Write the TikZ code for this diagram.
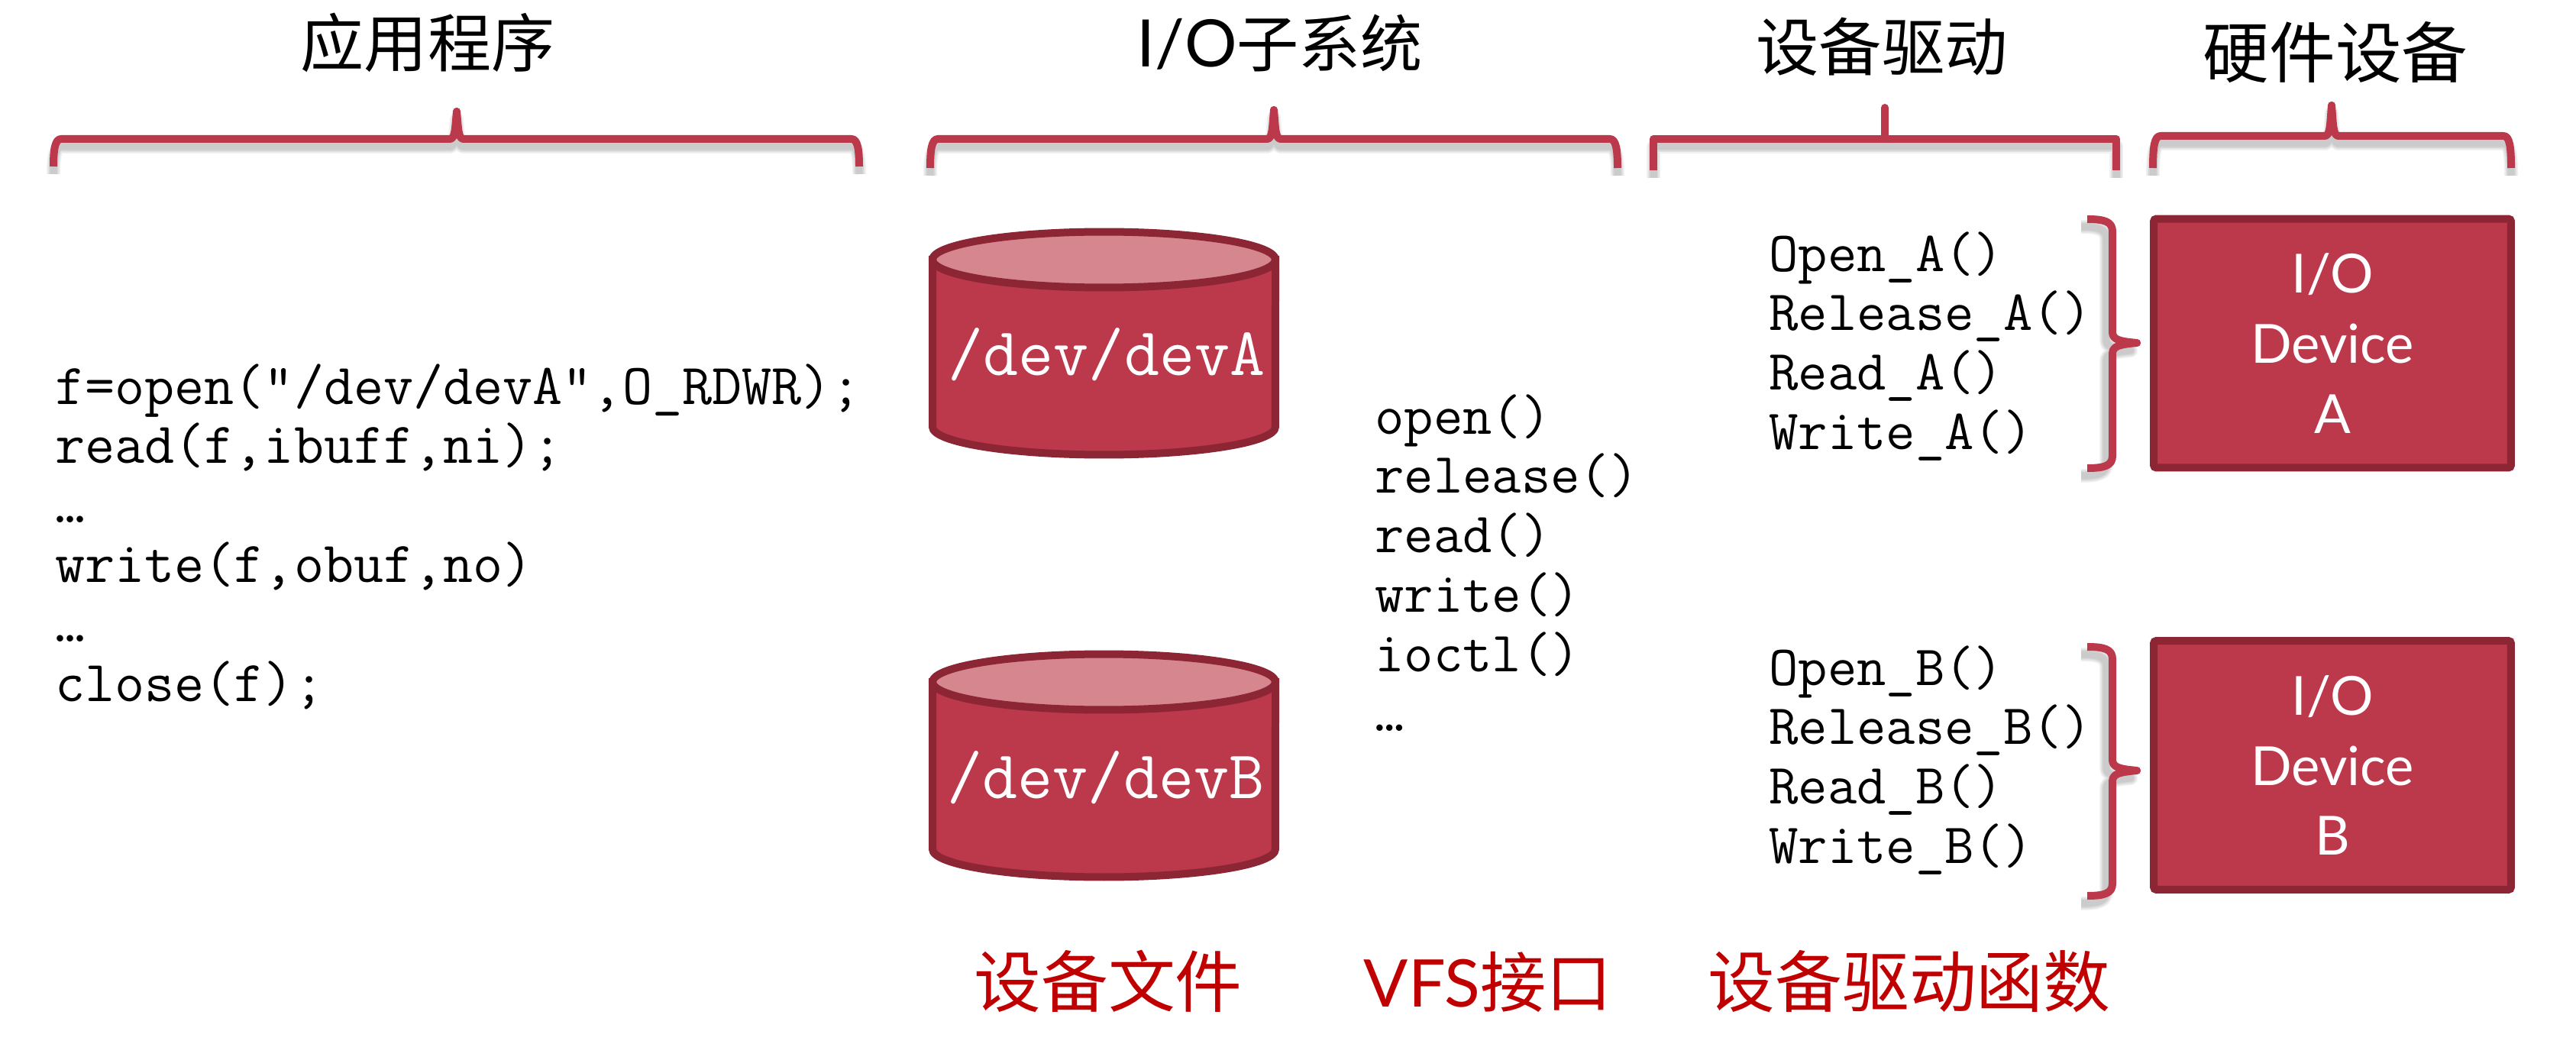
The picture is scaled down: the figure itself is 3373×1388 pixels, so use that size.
\documentclass[tikz,border=0pt]{standalone}
\usepackage{fontspec}
\newfontfamily\cjk{Noto Sans CJK SC}
\newfontfamily\gill{Lato}
\definecolor{brickred}{HTML}{BC384B}
\definecolor{darkbrick}{HTML}{8C2534}
\definecolor{lightbrick}{HTML}{D6868F}
\definecolor{notered}{HTML}{C00000}
\tikzset{
  bracket/.style = {draw = brickred, line width = 0.2cm, line join = round},
  bracketshade/.style = {draw = black, opacity = 0.055, line join = round},
  title/.style = {anchor = base, font = \cjk\fontsize{46.2}{50}\selectfont},
  note/.style = {anchor = base, text = notered, font = \cjk\fontsize{50}{52}\selectfont},
  code/.style = {anchor = north west, align = left, inner sep = 0, font = \ttfamily\fontsize{42.4}{44.3}\selectfont},
  devname/.style = {anchor = base, text = white, font = \ttfamily\fontsize{50.9}{52}\selectfont},
  cylside/.style = {draw = darkbrick, fill = brickred, line width = 0.2cm},
  cyltop/.style = {draw = darkbrick, fill = lightbrick, line width = 0.2cm},
  devicebox/.style = {draw = darkbrick, fill = brickred, line width = 0.2cm, rounded corners = 2pt,
    minimum width = 9.36cm, minimum height = 6.52cm, text = white, align = center, inner sep = 0,
    font = \gill\fontsize{40.2}{52.2}\selectfont}
}
\newcommand{\topbrace}[6]{
  \def\bracepath{(#1, #5) .. controls (#1, #4 + 14) and (#1 + 2, #4) .. (#1 + 10, #4) -- (#2 - 9, #4)
    .. controls (#2 - 2, #4) and (#2 - 2, #4 - 14) .. (#2, #6)
    .. controls (#2 + 2, #4 - 14) and (#2 + 2, #4) .. (#2 + 9, #4) -- (#3 - 10, #4)
    .. controls (#3 - 2, #4) and (#3, #4 + 14) .. (#3, #5)}
  \foreach \w in {0.36, 0.3, 0.24, 0.18}
    \draw[bracketshade, line width = \w cm, yshift = -0.2cm] \bracepath;
  \draw[bracket] \bracepath;
  \fill[brickred] (#2, #6) circle [radius = 0.1cm];
}
\newcommand{\sidebrace}[3]{
  \def\bracepath{(2733, #1) .. controls (2755, #1) and (2766, #1 + 3) .. (2766, #1 + 16) -- (2766, #2 - 14)
    .. controls (2766, #2 - 4) and (2776, #2 - 2) .. (2798, #2)
    .. controls (2776, #2 + 2) and (2766, #2 + 4) .. (2766, #2 + 14) -- (2766, #3 - 16)
    .. controls (2766, #3 - 3) and (2755, #3) .. (2733, #3)}
  \foreach \w in {0.36, 0.3, 0.24, 0.18}
    \draw[bracketshade, line width = \w cm, xshift = -0.16cm, yshift = -0.2cm] \bracepath;
  \draw[bracket] \bracepath;
  \fill[brickred] (2798, #2) circle [radius = 0.1cm];
}
\newcommand{\devcyl}[1]{
  \draw[cylside] (1221, #1) -- (1221, #1 + 219) arc [start angle = 180, end angle = 360, x radius = 4.49cm, y radius = 0.73cm] -- (1670, #1) -- cycle;
  \draw[cyltop] (1445.5, #1) ellipse [x radius = 4.49cm, y radius = 0.73cm];
}
\begin{document}
\begin{tikzpicture}[x = 0.02cm, y = -0.02cm]
\useasboundingbox (0, 0) rectangle (3373, 1388);

\node[title, font = \cjk\fontsize{47.3}{50}\selectfont] (apptitle) at (560, 88) {应用程序};
\node[title] (iotitle) at (1676, 88) {{\gill\fontsize{48.8}{50}\selectfont I/O}子系统};
\node[title, font = \cjk\fontsize{46.9}{50}\selectfont] (drvtitle) at (2464, 93) {设备驱动};
\node[title, font = \cjk\fontsize{49.4}{50}\selectfont] (hwtitle) at (3058, 102) {硬件设备};

\topbrace{70}{598}{1125}{182}{218}{146}
\topbrace{1218}{1668}{2118}{182}{220}{144}
\topbrace{2819}{3053}{3288}{178}{220}{138}
\foreach \w in {0.36, 0.3, 0.24, 0.18}
  \draw[bracketshade, line width = \w cm, yshift = -0.2cm] (2165, 223) -- (2165, 182) -- (2771, 182) -- (2771, 223);
\draw[bracket] (2165, 223) -- (2165, 182) -- (2771, 182) -- (2771, 223);
\draw[bracket] (2468, 182) -- (2468, 141);
\fill[brickred] (2468, 141) circle [radius = 0.1cm];

\node[code, font = \ttfamily\fontsize{43.2}{44.3}\selectfont] (appcode) at (72, 476) {f=open("/dev/devA",O\_RDWR);\\read(f,ibuff,ni);\\…\\write(f,obuf,no)\\…\\close(f);};

\devcyl{340}
\devcyl{893}
\node[devname] (deva) at (1449, 492) {/dev/devA};
\node[devname] (devb) at (1448, 1045) {/dev/devB};

\node[code] (vfscode) at (1800, 516) {open()\\release()\\read()\\write()\\ioctl()\\…};

\node[code] (drva) at (2316, 303) {Open\_A()\\Release\_A()\\Read\_A()\\Write\_A()};
\node[code] (drvb) at (2316, 845) {Open\_B()\\Release\_B()\\Read\_B()\\Write\_B()};

\sidebrace{287}{449}{613}
\sidebrace{847}{1009}{1173}

\node[devicebox] (devicea) at (3054, 449.5) {I/O\\Device\\A};
\node[devicebox] (deviceb) at (3054, 1002) {I/O\\Device\\B};

\node[note] (filenote) at (1451, 1318) {设备文件};
\node[note, font = \cjk\fontsize{49}{52}\selectfont] (vfsnote) at (1948, 1318) {{\gill VFS}接口};
\node[note] (drvnote) at (2500, 1318) {设备驱动函数};
\end{tikzpicture}
\end{document}
